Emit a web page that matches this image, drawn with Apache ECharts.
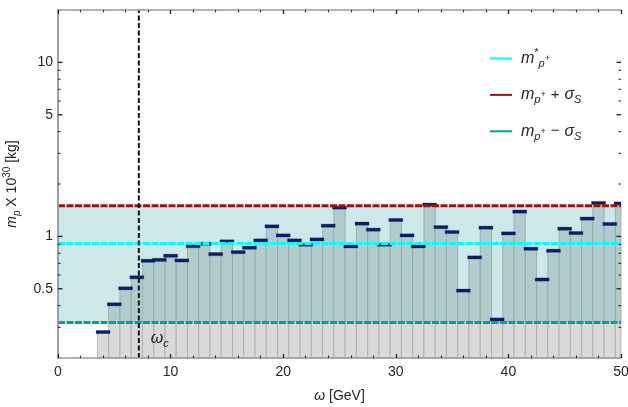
<!DOCTYPE html>
<html>
<head>
<meta charset="utf-8">
<script src="https://cdn.jsdelivr.net/npm/echarts@6/dist/echarts.min.js"></script>
<style>
  html, body { margin: 0; padding: 0; background: #fff; }
  #chart { width: 628px; height: 407px; }
</style>
</head>
<body>
<div id="chart"></div>
<script>
// Bin centres in GeV (each bin is 1 GeV wide)
const omega = [4, 5, 6, 7, 8, 9, 10, 11, 12, 13, 14, 15, 16, 17, 18, 19, 20, 21, 22, 23, 24, 25, 26,
               27, 28, 29, 30, 31, 32, 33, 34, 35, 36, 37, 38, 39, 40, 41, 42, 43, 44, 45, 46, 47, 48, 49, 50];
// Mass estimate per bin, shown as m_p x 10^30 [kg]
const massValues = [0.282, 0.407, 0.503, 0.582, 0.724, 0.733, 0.774, 0.727, 0.879, 0.908, 0.791, 0.936,
                    0.812, 0.861, 0.948, 1.142, 1.013, 0.948, 0.896, 0.961, 1.152, 1.464, 0.876, 1.184,
                    1.093, 0.896, 1.242, 1.013, 0.876, 1.523, 1.13, 1.059, 0.488, 0.757, 1.122, 0.333,
                    1.04, 1.388, 0.849, 0.565, 0.827, 1.107, 1.045, 1.265, 1.556, 1.178, 1.545];
// Reference levels
const mStar = 0.91;
const mUpper = 1.5;   // m + sigma_S
const mLower = 0.32;  // m - sigma_S
const omegaC = 7.18;
const binWidth = 1;
// Axis ranges and tick values
const xRange = [0, 50];
const yRange = [0.2, 20];
const yMajorTicks = [0.5, 1, 5, 10];
const yMinorTicks = [0.3, 0.4, 0.6, 0.7, 0.8, 0.9, 2, 3, 4, 6, 7, 8, 9];

const FONT = '"Liberation Sans", Arial, Helvetica, sans-serif';
const LABEL = '#262626';
const FRAME = '#9a9a9a';
const TICK = '#2a2a2a';
const RED = '#a01212';
const CYAN = '#00ffff';
const TEAL = '#00a0a0';
const NAVY = '#0b1f63';

const chart = echarts.init(document.getElementById('chart'));

const histData = omega.map((w, i) => [w, massValues[i]]);

function clipToGrid(rect, cs) {
  return echarts.graphic.clipRectByRect(rect, { x: cs.x, y: cs.y, width: cs.width, height: cs.height });
}

function renderBar(params, api) {
  const x = api.value(0), v = api.value(1);
  const p0 = api.coord([x - binWidth / 2, v]);
  const p1 = api.coord([x + binWidth / 2, yRange[0]]);
  const shape = clipToGrid({ x: p0[0], y: p0[1], width: p1[0] - p0[0], height: p1[1] - p0[1] }, params.coordSys);
  return shape && { type: 'rect', shape, style: { fill: '#d9d9d9', stroke: '#a9a9a9', lineWidth: 0.8 } };
}

function renderDash(params, api) {
  const p = api.coord([api.value(0), api.value(1)]);
  const shape = clipToGrid({ x: p[0] - 7, y: p[1] - 1.6, width: 14, height: 3.2 }, params.coordSys);
  return shape && { type: 'rect', shape, style: { fill: NAVY, stroke: 'rgba(11,31,99,0.3)', lineWidth: 0.8 } };
}

function renderBand(params, api) {
  const p0 = api.coord([api.value(0), api.value(3)]);
  const p1 = api.coord([api.value(2), api.value(1)]);
  return {
    type: 'rect',
    shape: { x: p0[0], y: p0[1], width: p1[0] - p0[0], height: p1[1] - p0[1] },
    style: { fill: 'rgba(61,167,167,0.26)' }
  };
}

function renderYTick(params, api) {
  const v = api.value(1), major = api.value(2) === 1;
  const cs = params.coordSys;
  const y = api.coord([xRange[0], v])[1];
  const len = major ? 4.5 : 2.5;
  const w = major ? 1.4 : 1.1;
  const children = [
    { type: 'line', shape: { x1: cs.x, y1: y, x2: cs.x + len, y2: y }, style: { stroke: TICK, lineWidth: w } },
    { type: 'line', shape: { x1: cs.x + cs.width, y1: y, x2: cs.x + cs.width - len, y2: y }, style: { stroke: TICK, lineWidth: w } }
  ];
  if (major) {
    children.push({
      type: 'text',
      style: { x: cs.x - 5, y: y, text: String(v), align: 'right', verticalAlign: 'middle',
               font: '14px ' + FONT, fill: LABEL }
    });
  }
  return { type: 'group', children };
}

function renderOmegaLabel(params, api) {
  const p = api.coord([api.value(0), api.value(1)]);
  return {
    type: 'text',
    style: {
      x: p[0] + 12, y: p[1] - 19, text: '{w|ω}{c|c}', verticalAlign: 'middle', fill: LABEL, font: '15px ' + FONT,
      rich: {
        w: { fontFamily: FONT, fontSize: 16, fontStyle: 'italic', lineHeight: 20, verticalAlign: 'middle' },
        c: { fontFamily: FONT, fontSize: 11, fontStyle: 'italic', lineHeight: 12, verticalAlign: 'bottom' }
      }
    }
  };
}

const xAxisCommon = {
  type: 'value', min: xRange[0], max: xRange[1], interval: 10, z: 8,
  axisLine: { show: true, onZero: false, lineStyle: { color: FRAME, width: 1.5 } },
  axisTick: { show: true, inside: true, length: 4, lineStyle: { color: TICK, width: 1.4 } },
  minorTick: { show: true, splitNumber: 5, length: 2.5, lineStyle: { color: TICK, width: 1.1 } },
  splitLine: { show: false },
  minorSplitLine: { show: false }
};

const legendRich = {
  i: { fontFamily: FONT, fontSize: 16, fontStyle: 'italic', lineHeight: 22, verticalAlign: 'middle', fill: LABEL },
  sup: { fontFamily: FONT, fontSize: 11, lineHeight: 12, verticalAlign: 'top', fill: LABEL },
  sub: { fontFamily: FONT, fontSize: 11, fontStyle: 'italic', lineHeight: 12, verticalAlign: 'bottom', fill: LABEL },
  sp: { fontFamily: FONT, fontSize: 9, lineHeight: 16, verticalAlign: 'middle', fill: LABEL },
  op: { fontFamily: FONT, fontSize: 15, lineHeight: 22, verticalAlign: 'middle', padding: [0, 5, 0, 5], fill: LABEL }
};
const legendItems = [
  { color: CYAN, text: '{i|m}{sup|*}{sub|p}{sp|+}' },
  { color: RED, text: '{i|m}{sub|p}{sp|+}{op|+}{i|σ}{sub|S}' },
  { color: TEAL, text: '{i|m}{sub|p}{sp|+}{op|−}{i|σ}{sub|S}' }
];
const legendGraphic = [];
legendItems.forEach((it, k) => {
  const y = 58.5 + k * 36.4;
  legendGraphic.push({ type: 'line', z: 100, shape: { x1: 490, y1: y, x2: 512, y2: y }, style: { stroke: it.color, lineWidth: 2 } });
  legendGraphic.push({ type: 'text', z: 100, x: 521, y: y,
    style: { text: it.text, rich: legendRich, verticalAlign: 'middle', font: '15px ' + FONT, fill: LABEL } });
});

chart.setOption({
  animation: false,
  backgroundColor: '#fff',
  grid: { left: 58, right: 7, top: 10, bottom: 49, containLabel: false, outerBoundsMode: 'none' },
  xAxis: [
    Object.assign({}, xAxisCommon, {
      position: 'bottom',
      axisLabel: { fontSize: 14, color: LABEL, margin: 7, fontFamily: FONT },
      name: '{w|ω} [GeV]', nameLocation: 'middle', nameGap: 31,
      nameTextStyle: {
        fontSize: 14, color: LABEL, fontFamily: FONT,
        rich: { w: { fontSize: 14, fontStyle: 'italic', fontFamily: FONT, color: LABEL } }
      }
    }),
    Object.assign({}, xAxisCommon, { position: 'top', axisLabel: { show: false } })
  ],
  yAxis: [
    {
      type: 'log', logBase: 10, min: yRange[0], max: yRange[1], position: 'left', z: 8,
      axisLine: { show: true, lineStyle: { color: FRAME, width: 1.5 } },
      axisTick: { show: false }, axisLabel: { show: false },
      splitLine: { show: false }, minorTick: { show: false },
      name: '{i|m}{sub|p} X 10{sup|30} [kg]', nameLocation: 'middle', nameRotate: 90, nameGap: 36,
      nameTextStyle: {
        fontSize: 14, color: LABEL, fontFamily: FONT, lineHeight: 20,
        rich: {
          i: { fontSize: 14, fontStyle: 'italic', fontFamily: FONT, color: LABEL, lineHeight: 20, verticalAlign: 'middle' },
          sub: { fontSize: 10, fontStyle: 'italic', fontFamily: FONT, color: LABEL, lineHeight: 12, verticalAlign: 'bottom' },
          sup: { fontSize: 10, fontFamily: FONT, color: LABEL, lineHeight: 12, verticalAlign: 'top' }
        }
      }
    },
    {
      type: 'log', logBase: 10, min: yRange[0], max: yRange[1], position: 'right', z: 8,
      axisLine: { show: true, lineStyle: { color: FRAME, width: 1.5 } },
      axisTick: { show: false }, axisLabel: { show: false },
      splitLine: { show: false }, minorTick: { show: false }
    }
  ],
  series: [
    { type: 'custom', name: 'bins', z: 2, silent: true, data: histData, encode: { x: 0, y: 1 }, renderItem: renderBar },
    { type: 'custom', name: 'band', z: 3, silent: true, data: [[xRange[0], mLower, xRange[1], mUpper]],
      encode: { x: [0, 2], y: [1, 3] }, renderItem: renderBand },
    { type: 'custom', name: 'values', z: 4, silent: true, data: histData, encode: { x: 0, y: 1 }, renderItem: renderDash },
    { type: 'line', name: 'm* p+', z: 5, silent: true, symbol: 'none',
      data: [[xRange[0], mStar], [xRange[1], mStar]], lineStyle: { color: CYAN, width: 3, type: [7, 1.5] } },
    { type: 'line', name: 'm p+ + sigma', z: 5, silent: true, symbol: 'none',
      data: [[xRange[0], mUpper], [xRange[1], mUpper]], lineStyle: { color: RED, width: 3, type: [7, 1.5] } },
    { type: 'line', name: 'm p+ - sigma', z: 5, silent: true, symbol: 'none',
      data: [[xRange[0], mLower], [xRange[1], mLower]], lineStyle: { color: TEAL, width: 3, type: [7, 1.5] } },
    { type: 'line', name: 'omega c', z: 6, silent: true, symbol: 'none',
      data: [[omegaC, yRange[0]], [omegaC, yRange[1]]], lineStyle: { color: '#111', width: 2, type: [5, 2.5] } },
    { type: 'custom', name: 'omega c label', z: 6, silent: true, data: [[omegaC, yRange[0]]],
      encode: { x: 0, y: 1 }, renderItem: renderOmegaLabel },
    { type: 'custom', name: 'y ticks', z: 9, silent: true,
      data: yMajorTicks.map(v => [xRange[0], v, 1]).concat(yMinorTicks.map(v => [xRange[0], v, 0])),
      encode: { x: 0, y: 1 }, renderItem: renderYTick }
  ],
  graphic: legendGraphic
});
</script>
</body>
</html>
